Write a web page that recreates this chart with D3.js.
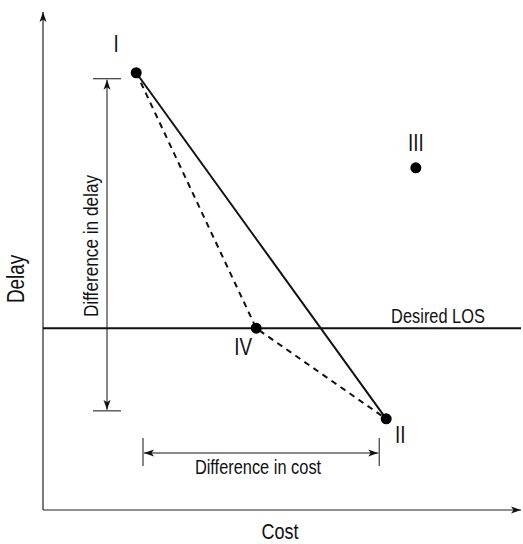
<!DOCTYPE html>
<html><head><meta charset="utf-8">
<script src="https://cdn.jsdelivr.net/npm/d3@7"></script>
<style>
body{margin:0;background:#fff;}
text{font-family:"Liberation Sans Narrow","Arial Narrow","Liberation Sans",Arial,sans-serif;fill:#111;}
</style></head>
<body><svg id="c" width="523" height="544"></svg>
<script>
// Data (abstract units, 0-100 on both axes)
const pointNames = ["I", "II", "III", "IV"];
const pointCost  = [19.5, 71.8, 78.0, 44.6];
const pointDelay = [87.8, 18.3, 68.7, 36.5];
const desiredLOS = 36.5;
const solidPath  = ["I", "II"];
const dashedPath = ["I", "IV", "II"];
const axisLabels = ["Cost", "Delay"];
const annotations = ["Difference in delay", "Difference in cost", "Desired LOS"];

const svg = d3.select("#c");
const x = d3.scaleLinear().domain([0, 100]).range([43, 521]);
const y = d3.scaleLinear().domain([0, 100]).range([510, 12]);

// narrow text helper (condensed look)
const SX = 0.82;
function addText(tx, ty, str, size, rot){
  let t = `translate(${tx},${ty})`;
  if (rot) t += ` rotate(${rot})`;
  t += ` scale(${SX},1)`;
  return svg.append("text").attr("transform", t).attr("text-anchor", "middle")
    .attr("font-size", size).text(str);
}

const defs = svg.append("defs");
function marker(id, orient){
  defs.append("marker").attr("id", id).attr("viewBox", "0 0 10 10")
    .attr("refX", 10).attr("refY", 5).attr("markerWidth", 10).attr("markerHeight", 10)
    .attr("markerUnits", "userSpaceOnUse").attr("orient", orient)
    .append("path").attr("d", "M0,1.5 L10,5 L0,8.5 L2.5,5 Z").attr("fill", "#111");
}
marker("arr", "auto");
marker("arrs", "auto-start-reverse");

const pts = {};
pointNames.forEach((n, i) => pts[n] = {x: x(pointCost[i]), y: y(pointDelay[i])});

// axes
svg.append("line").attr("x1", x(0)).attr("y1", y(0)).attr("x2", x(0)).attr("y2", y(100))
  .attr("stroke", "#222").attr("stroke-width", 1.2).attr("marker-end", "url(#arr)");
svg.append("line").attr("x1", x(0)).attr("y1", y(0)).attr("x2", x(100)).attr("y2", y(0))
  .attr("stroke", "#222").attr("stroke-width", 1.2).attr("marker-end", "url(#arr)");

addText((x(0)+x(100))/2 - 2, 539, axisLabels[0], 22);
addText(24, 279, axisLabels[1], 23, -90);

// desired LOS line
svg.append("line").attr("x1", x(0)).attr("x2", x(100)).attr("y1", y(desiredLOS)).attr("y2", y(desiredLOS))
  .attr("stroke", "#111").attr("stroke-width", 2);
addText(438, y(desiredLOS) - 5, annotations[2], 20);

// paths
const line = d3.line().x(d => pts[d].x).y(d => pts[d].y);
svg.append("path").attr("d", line(solidPath)).attr("fill", "none").attr("stroke", "#111").attr("stroke-width", 2);
svg.append("path").attr("d", line(dashedPath)).attr("fill", "none").attr("stroke", "#111")
  .attr("stroke-width", 2).attr("stroke-dasharray", "6,5");

// points
svg.selectAll("circle.p").data(pointNames).join("circle").attr("class", "p")
  .attr("cx", d => pts[d].x).attr("cy", d => pts[d].y).attr("r", 5.5).attr("fill", "#000");

const labelOff = {I: [-20, -21], II: [14, 24], III: [0, -17], IV: [-13, 27]};
pointNames.forEach(d => addText(pts[d].x + labelOff[d][0], pts[d].y + labelOff[d][1], d, 23));

// Difference in delay
const dx = 107, yTop = pts.I.y + 6, yBot = pts.II.y - 8;
[yTop, yBot].forEach(v => svg.append("line").attr("x1", 93).attr("x2", 121).attr("y1", v).attr("y2", v)
  .attr("stroke", "#111").attr("stroke-width", 1));
svg.append("line").attr("x1", dx).attr("x2", dx).attr("y1", yTop + 1).attr("y2", yBot - 1)
  .attr("stroke", "#111").attr("stroke-width", 1)
  .attr("marker-start", "url(#arrs)").attr("marker-end", "url(#arr)");
addText(98, 246, annotations[0], 21, -90);

// Difference in cost
const cy = 453, xL = 143, xR = pts.II.x - 7;
[xL, xR].forEach(v => svg.append("line").attr("x1", v).attr("x2", v).attr("y1", 438).attr("y2", 466)
  .attr("stroke", "#111").attr("stroke-width", 1));
svg.append("line").attr("x1", xL + 1).attr("x2", xR - 1).attr("y1", cy).attr("y2", cy)
  .attr("stroke", "#111").attr("stroke-width", 1)
  .attr("marker-start", "url(#arrs)").attr("marker-end", "url(#arr)");
addText(258, 474, annotations[1], 20);
</script></body></html>
